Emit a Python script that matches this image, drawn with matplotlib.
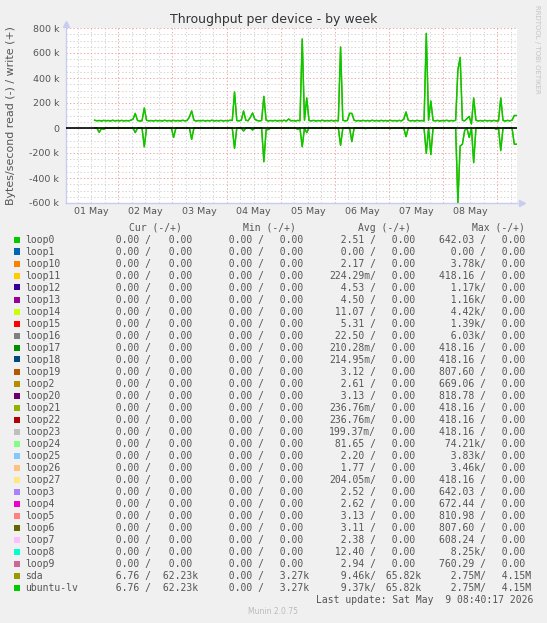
import matplotlib
matplotlib.use("Agg")
import matplotlib.pyplot as plt
from matplotlib.patches import Rectangle
import numpy as np

plt.rcParams['lines.scale_dashes'] = False

W, H = 547, 623

# hourly samples, hours since 01 May 00:00, values in kB/s
first_hour = 13
write_k = [
    # 01 May 13-23
    62, 58, 60, 56, 61, 57, 60, 56, 62, 57, 60,
    # 02 May
    57, 61, 56, 60, 57, 62, 70, 117, 60, 56, 58, 160, 62, 57, 60, 56, 61, 57, 60, 56, 62, 57, 60, 56,
    # 03 May
    61, 57, 60, 56, 62, 57, 60, 88, 136, 62, 56, 60, 57, 61, 56, 60, 57, 62, 56, 60, 57, 61, 56, 60,
    # 04 May
    57, 62, 60, 288, 60, 57, 62, 136, 62, 58, 85, 120, 70, 60, 57, 60, 253, 62, 56, 60, 57, 61, 56, 60,
    # 05 May
    57, 62, 56, 72, 57, 60, 56, 61, 58, 712, 62, 240, 60, 57, 61, 56, 60, 57, 62, 56, 60, 57, 61, 56,
    # 06 May
    60, 57, 648, 62, 57, 60, 117, 117, 62, 57, 60, 56, 61, 57, 60, 56, 62, 57, 60, 56, 61, 57, 60, 56,
    # 07 May
    62, 57, 60, 56, 61, 57, 70, 128, 62, 57, 60, 56, 61, 57, 60, 56, 757, 62, 216, 60, 57, 61, 56, 60,
    # 08 May
    57, 62, 56, 60, 57, 62, 464, 565, 62, 57, 75, 93, 32, 240, 62, 57, 60, 56, 61, 57, 60, 56, 61, 57,
    # 09 May 00-08
    57, 240, 60, 56, 61, 57, 62, 100, 100,
]
read_k = [
    0, 0, 35, 5, 10, 0, 0, 0, 0, 0, 0,
    0, 0, 0, 0, 0, 0, 0, 37, 0, 0, 0, 150, 0, 0, 0, 0, 0, 0, 0, 0, 0, 0, 0, 0,
    75, 0, 0, 0, 0, 0, 0, 0, 91, 0, 0, 0, 0, 0, 0, 0, 0, 0, 0, 0, 0, 0, 0, 0,
    0, 0, 0, 163, 0, 0, 0, 24, 0, 0, 0, 16, 0, 0, 0, 0, 270, 15, 12, 0, 0, 0, 0, 0,
    0, 0, 0, 0, 0, 0, 0, 10, 0, 150, 0, 37, 0, 0, 0, 0, 0, 0, 0, 0, 0, 0, 0, 0,
    0, 0, 139, 0, 0, 0, 0, 109, 0, 0, 0, 0, 0, 5, 0, 0, 0, 0, 0, 0, 0, 0, 0, 0,
    5, 0, 0, 0, 0, 0, 0, 69, 0, 0, 0, 0, 0, 0, 0, 0, 203, 0, 213, 0, 0, 0, 0, 0,
    0, 0, 0, 0, 0, 0, 598, 144, 130, 20, 0, 75, 0, 277, 0, 0, 0, 0, 0, 0, 0, 0, 0, 10,
    0, 181, 0, 0, 0, 0, 0, 130, 130,
]

day_labels = ['01 May', '02 May', '03 May', '04 May', '05 May', '06 May', '07 May', '08 May']
y_ticks = [-600000, -400000, -200000, 0, 200000, 400000, 600000, 800000]
y_tick_labels = ['-600 k', '-400 k', '-200 k', '0', '200 k', '400 k', '600 k', '800 k']

names = ['loop0', 'loop1', 'loop10', 'loop11', 'loop12', 'loop13', 'loop14', 'loop15',
         'loop16', 'loop17', 'loop18', 'loop19', 'loop2', 'loop20', 'loop21', 'loop22',
         'loop23', 'loop24', 'loop25', 'loop26', 'loop27', 'loop3', 'loop4', 'loop5',
         'loop6', 'loop7', 'loop8', 'loop9', 'sda', 'ubuntu-lv']
colors = ['#00CC00', '#0066B3', '#FF8000', '#FFCC00', '#330099', '#990099', '#CCFF00', '#FF0000',
          '#808080', '#008F00', '#00487D', '#B35A00', '#B38F00', '#6B006B', '#8FB300', '#B30000',
          '#BEBEBE', '#80FF80', '#80C9FF', '#FFC080', '#FFE680', '#AA80FF', '#EE00CC', '#FF8080',
          '#666600', '#FFBFFF', '#00FFCC', '#CC6699', '#999900', '#00CC00']
cur_read = [0.0] * 28 + [6.76, 6.76]
cur_write = [0.0] * 28 + [62230, 62230]
min_read = [0.0] * 30
min_write = [0.0] * 28 + [3270, 3270]
avg_read = [2.51, 0.00, 2.17, 0.22429, 4.53, 4.50, 11.07, 5.31, 22.50, 0.21028, 0.21495, 3.12,
            2.61, 3.13, 0.23676, 0.23676, 0.19937, 81.65, 2.20, 1.77, 0.20405, 2.52, 2.62, 3.13,
            3.11, 2.38, 12.40, 2.94, 9460, 9370]
avg_write = [0.0] * 28 + [65820, 65820]
max_read = [642.03, 0.00, 3780, 418.16, 1170, 1160, 4420, 1390, 6030, 418.16, 418.16, 807.60,
            669.06, 818.78, 418.16, 418.16, 418.16, 74210, 3830, 3460, 418.16, 642.03, 672.44, 810.98,
            807.60, 608.24, 8250, 760.29, 2.75e6, 2.75e6]
max_write = [0.0] * 28 + [4.15e6, 4.15e6]


def si(v):
    if v == 0:
        return '%6.2f ' % 0
    for f, p in ((1e6, 'M'), (1e3, 'k'), (1, ' ')):
        if abs(v) >= f:
            return '%6.2f%s' % (v / f, p)
    return '%6.2f%s' % (v * 1000, 'm')


def fx(x):
    return x / W


def fy(y):
    return 1 - y / H


txt = '#555555'
fig = plt.figure(figsize=(W / 100, H / 100), dpi=100, facecolor='#F0F0F0')
ax = fig.add_axes([fx(66), fy(203), fx(517) - fx(66), fy(28) - fy(203)], facecolor='white')

t = np.arange(first_hour, first_hour + len(write_k)) + 0.5
wr = np.array(write_k) * 1000.0
rd = -np.array(read_k) * 1000.0

# grid
for h in range(0, 204, 6):
    if h % 24:
        ax.axvline(h, color='#CFCFCF', lw=0.6, ls=(0, (1, 1.5)), zorder=0)
for v in range(-600000, 800001, 50000):
    if v % 200000:
        ax.axhline(v, color='#CFCFCF', lw=0.6, ls=(0, (1, 1.5)), zorder=0)
for h in range(24, 204, 24):
    ax.axvline(h, color='#EE9A9A', lw=0.6, ls=(0, (1, 1.5)), zorder=1)
for v in y_ticks[1:]:
    ax.axhline(v, color='#EE9A9A', lw=0.6, ls=(0, (1, 1.5)), zorder=1)

ax.plot(t, wr, color=colors[28], lw=1, zorder=3)
ax.plot(t, rd, color=colors[28], lw=1, zorder=3)
ax.plot(t, wr, color=colors[29], lw=1, zorder=4)
ax.plot(t, rd, color=colors[29], lw=1, zorder=4)
ax.axhline(0, color='black', lw=1.2, zorder=5)

ax.set_xlim(0.8, 200.7)
ax.set_ylim(-600000, 800000)
ax.set_xticks([12 + 24 * i for i in range(len(day_labels))])
ax.set_xticklabels(day_labels)
ax.set_yticks(y_ticks)
ax.set_yticklabels(y_tick_labels)
ax.tick_params(length=0, labelsize=6.8, colors=txt)
ax.tick_params(axis='y', pad=5)
ax.tick_params(axis='x', pad=3)
for s in ('top', 'right'):
    ax.spines[s].set_visible(False)
for s in ('left', 'bottom'):
    ax.spines[s].set_color('#C8CCF0')
    ax.spines[s].set_linewidth(1)
ax.plot([0], [1.025], marker='^', color='#C8CCF0', ms=5, transform=ax.transAxes, clip_on=False)
ax.plot([1.01], [0], marker='>', color='#C8CCF0', ms=5, transform=ax.transAxes, clip_on=False)

fig.text(fx(W / 2), fy(19), 'Throughput per device - by week', ha='center', va='center',
         fontsize=9, color='#333333')
fig.text(fx(11), fy(115.5), 'Bytes/second read (-) / write (+)', rotation=90,
         ha='center', va='center', fontsize=7.9, color=txt)
fig.text(fx(537), fy(5), 'RRDTOOL / TOBI OETIKER', rotation=-90, ha='center', va='top',
         fontsize=5, color='#C4C4C4')

# legend (baseline-aligned so rows with and without descenders line up)
mono = 'DejaVu Sans Mono'
base = 3.5
headers = ['Cur (-/+)', 'Min (-/+)', 'Avg (-/+)', 'Max (-/+)']
head_x = [128.8, 242.8, 357.8, 472.2]
for hx, hs in zip(head_x, headers):
    fig.text(fx(hx), fy(227.5 + base), hs, family=mono, fontsize=7, color=txt,
             ha='left', va='baseline')

col_x = [104.3, 156.6, 216.6, 268.3, 329.3, 380.0, 439.3, 490.0]
for i, name in enumerate(names):
    y = 239.5 + 12 * i
    fig.patches.append(Rectangle((fx(13.5), fy(y + 3)), 6 / W, 6 / H, transform=fig.transFigure,
                                 facecolor=colors[i], edgecolor='none'))
    fig.text(fx(25), fy(y + base), name, family=mono, fontsize=7, color=txt,
             ha='left', va='baseline')
    vals = [si(cur_read[i]) + '/', si(cur_write[i]), si(min_read[i]) + '/', si(min_write[i]),
            si(avg_read[i]) + '/', si(avg_write[i]), si(max_read[i]) + '/', si(max_write[i])]
    for cx, s in zip(col_x, vals):
        fig.text(fx(cx), fy(y + base), s, family=mono, fontsize=7, color=txt,
                 ha='left', va='baseline')

fig.text(fx(533), fy(599.5 + base), 'Last update: Sat May  9 08:40:17 2026', family=mono,
         fontsize=7, color=txt, ha='right', va='baseline')
fig.text(fx(W / 2), fy(612), 'Munin 2.0.75', fontsize=5.5, color='#BBBBBB', ha='center', va='center')

fig.savefig('out.png', dpi=100, facecolor=fig.get_facecolor())
